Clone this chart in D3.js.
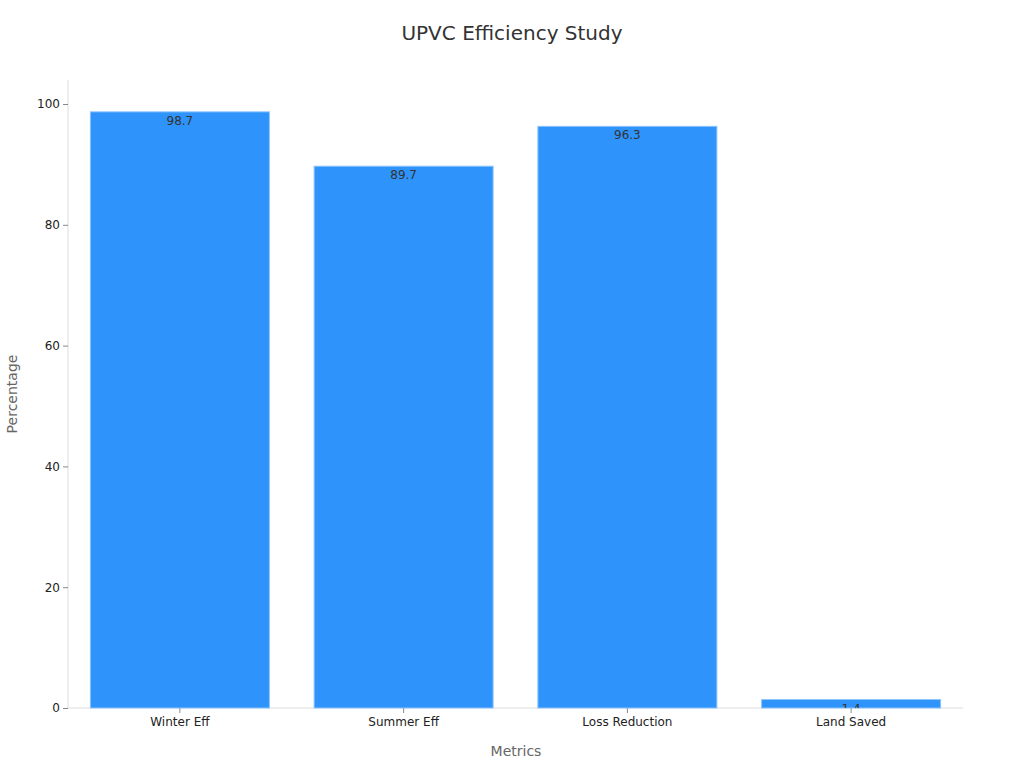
<!DOCTYPE html><html><head><meta charset="utf-8"><script src="https://cdn.jsdelivr.net/npm/d3@7"></script>
<style>body{margin:0;background:#fff;font-family:"DejaVu Sans",sans-serif}</style></head><body><svg id="c" width="1024" height="768"></svg>
<script>
const categories=["Winter Eff","Summer Eff","Loss Reduction","Land Saved"];
const values=[98.7,89.7,96.3,1.4];
const yTicks=[0,20,40,60,80,100];
const svg=d3.select("#c");
const m={l:68,r:963,t:104,b:708};
const x=d3.scaleBand().domain(categories).range([m.l,m.r]).paddingInner(0.2).paddingOuter(0.1);
const y=d3.scaleLinear().domain([0,100]).range([m.b,m.t]);
svg.append("text").attr("x",512).attr("y",40).attr("text-anchor","middle").attr("font-size",20).attr("fill","#333").text("UPVC Efficiency Study");
const ya=svg.append("g").attr("transform",`translate(${m.l},0)`).call(d3.axisLeft(y).tickValues(yTicks).tickSize(5).tickPadding(3));
ya.select(".domain").attr("d",`M0,80V${m.b}`).attr("stroke","#ddd");
const xa=svg.append("g").attr("transform",`translate(0,${m.b})`).call(d3.axisBottom(x).tickSize(5).tickPadding(4));
xa.select(".domain").attr("d",`M${m.l},0H${m.r}`).attr("stroke","#ddd");
svg.selectAll(".tick line").attr("stroke","#888");
svg.selectAll(".tick text").attr("font-size",12).attr("fill","#222").attr("font-family","DejaVu Sans");
const defs=svg.append("defs");
categories.forEach((c,i)=>{defs.append("clipPath").attr("id","cp"+i).append("rect").attr("x",x(c)).attr("y",y(values[i])).attr("width",x.bandwidth()).attr("height",m.b-y(values[i]));});
svg.selectAll("rect.bar").data(values).join("rect").attr("class","bar").attr("x",(d,i)=>x(categories[i])).attr("y",d=>y(d)).attr("width",x.bandwidth()).attr("height",d=>m.b-y(d)).attr("fill","#2e93fa").attr("stroke","#8cc4fc").attr("stroke-width",1);
svg.selectAll("text.lbl").data(values).join("text").attr("class","lbl").attr("clip-path",(d,i)=>`url(#cp${i})`).attr("x",(d,i)=>x(categories[i])+x.bandwidth()/2).attr("y",d=>y(d)+13).attr("text-anchor","middle").attr("font-size",12).attr("fill","#333").text(d=>d);
svg.append("text").attr("transform","translate(17,394) rotate(-90)").attr("text-anchor","middle").attr("font-size",14).attr("fill","#666").text("Percentage");
svg.append("text").attr("x",516).attr("y",756).attr("text-anchor","middle").attr("font-size",14).attr("fill","#666").text("Metrics");
</script></body></html>
